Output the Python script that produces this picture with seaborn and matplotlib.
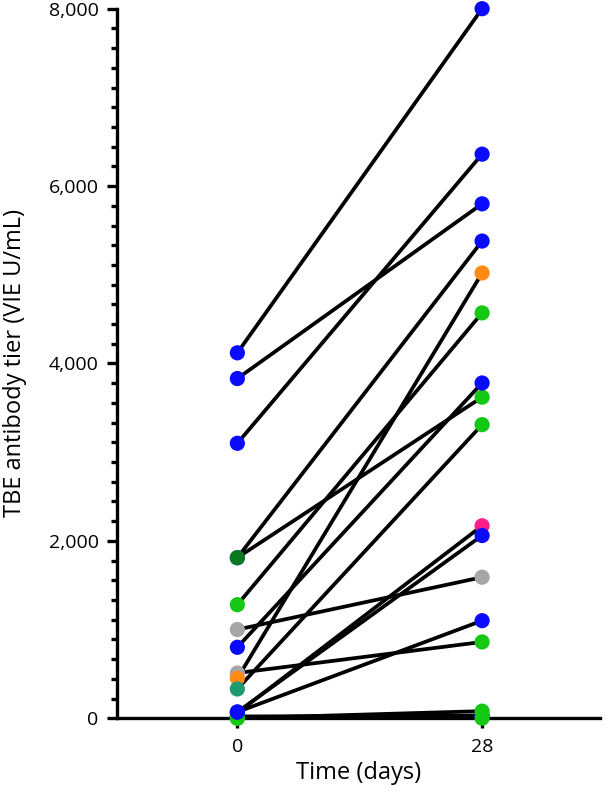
import pandas as pd
import matplotlib
matplotlib.use("Agg")
import matplotlib.pyplot as plt
from matplotlib.ticker import AutoMinorLocator, FuncFormatter
import seaborn as sns

# one entry per subject: titer at day 0 and day 28, colour of each dot
subject = list("DEABCFGHIJKLPQOMN")
day0 = [1810, 1810, 4120, 3830, 3100, 1280, 1000, 800, 510, 450, 330, 60, 20, 0, 0, 70, 70]
day28 = [5380, 3620, 8000, 5800, 6360, 4570, 1590, 3780, 860, 5020, 3310, 2170, 30, 0, 80, 2060, 1100]
col0 = ["blue", "dkgreen", "blue", "blue", "blue", "green", "gray", "blue", "gray",
        "orange", "teal", "pink", "blue", "green", "green", "blue", "blue"]
col28 = ["blue", "green", "blue", "blue", "blue", "green", "gray", "blue", "green",
         "orange", "green", "pink", "blue", "green", "green", "blue", "blue"]
time_ticks = [0, 28]

palette = {"blue": "#0a0aff", "green": "#14c814", "dkgreen": "#0a7a1e",
           "gray": "#a6a6a8", "orange": "#ff8a14", "teal": "#1f9a70",
           "pink": "#ff1e8c"}

df = pd.DataFrame({
    "subject": subject * 2,
    "day": [0] * len(subject) + [28] * len(subject),
    "titer": day0 + day28,
    "colour": col0 + col28,
})

sns.set_style("ticks", {"axes.edgecolor": "black", "text.color": "black",
                        "xtick.color": "black", "ytick.color": "black",
                        "axes.labelcolor": "black"})
plt.rcParams["font.family"] = ["Open Sans", "DejaVu Sans"]

fig = plt.figure(figsize=(6.08, 7.91), dpi=100)
ax = fig.add_axes([0.192, 0.092, 0.795, 0.897])

sns.lineplot(data=df, x="day", y="titer", units="subject", estimator=None,
             color="black", linewidth=2.7, ax=ax, zorder=3)
for d in time_ticks:
    sns.scatterplot(data=df[df["day"] == d], x="day", y="titer", hue="colour",
                    palette=palette, legend=False, s=120, linewidth=0,
                    ax=ax, zorder=4, clip_on=False)

ax.set_xlim(-13.8, 41.5)
ax.set_ylim(0, 8000)
ax.set_xticks(time_ticks)
ax.set_xticklabels([str(t) for t in time_ticks])
ax.set_yticks(range(0, 8001, 2000))
ax.yaxis.set_major_formatter(FuncFormatter(lambda v, p: f"{int(v):,}"))
ax.yaxis.set_minor_locator(AutoMinorLocator(9))

sns.despine(ax=ax)
for s in ["left", "bottom"]:
    ax.spines[s].set_linewidth(2.4)
    ax.spines[s].set_color("black")
ax.tick_params(axis="both", which="major", labelsize=14, length=7, width=2.4,
               colors="black")
ax.tick_params(axis="x", which="major", pad=7)
ax.tick_params(axis="y", which="major", pad=6)
ax.tick_params(axis="y", which="minor", length=4.5, width=2.4, colors="black")

ax.set_xlabel("Time (days)", fontsize=17, labelpad=4, color="black")
ax.set_ylabel("TBE antibody tier (VIE U/mL)", fontsize=17, color="black")
ax.yaxis.set_label_coords(-0.185, 0.5)

plt.savefig("out.png", dpi=100)
